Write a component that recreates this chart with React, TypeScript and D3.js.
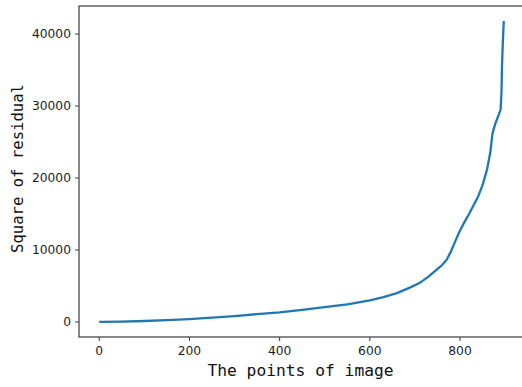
import React from "react";
import * as d3 from "d3";

const pointIndex = [0, 50, 100, 150, 200, 250, 300, 350, 400, 450, 500, 550, 600, 630, 660, 690, 710, 730, 745, 760, 770, 780, 790, 800, 810, 820, 830, 840, 850, 860, 867, 872, 878, 884, 890, 892, 893, 895, 897];
const residualSq = [0, 50, 130, 260, 400, 600, 820, 1080, 1330, 1680, 2050, 2450, 3000, 3450, 4000, 4800, 5400, 6300, 7100, 7900, 8600, 9800, 11300, 12700, 13900, 15000, 16200, 17400, 19000, 21200, 23500, 26200, 27500, 28500, 29500, 32000, 35500, 39000, 41800];
const xTicks = [0, 200, 400, 600, 800];
const yTicks = [0, 10000, 20000, 30000, 40000];

export default function App() {
  const W = 522, H = 387;
  const left = 79, right = 524, top = 6, bottom = 337;
  const xMax = 897, yMax = 41800;
  const x = d3.scaleLinear().domain([-0.05 * xMax, xMax * 1.05]).range([left, right]);
  const y = d3.scaleLinear().domain([-0.05 * yMax, yMax * 1.05]).range([bottom, top]);
  const line = d3.line<number>().x((_, i) => x(pointIndex[i])).y((d) => y(d));
  const spine = "#3a3a3a";
  return (
    <svg width={W} height={H} style={{ position: "absolute", left: 0, top: 0, background: "#fff" }}>
      <rect x={0} y={0} width={W} height={H} fill="#fff" />
      <path d={line(residualSq) || ""} fill="none" stroke="#1f77b4" strokeWidth={2.3} strokeLinejoin="round" strokeLinecap="butt" />
      <rect x={left} y={top} width={right - left} height={bottom - top} fill="none" stroke={spine} strokeWidth={1.2} />
      {xTicks.map((t) => (
        <g key={"x" + t}>
          <line x1={x(t)} x2={x(t)} y1={bottom} y2={bottom + 4} stroke={spine} strokeWidth={1} />
          <text x={x(t)} y={355} textAnchor="middle" fontFamily="DejaVu Sans" fontSize={12.3} fill="#1a1a1a">{t}</text>
        </g>
      ))}
      {yTicks.map((t) => (
        <g key={"y" + t}>
          <line x1={left - 4} x2={left} y1={y(t)} y2={y(t)} stroke={spine} strokeWidth={1} />
          <text x={71} y={y(t)} dy="0.35em" textAnchor="end" fontFamily="DejaVu Sans" fontSize={12.3} fill="#1a1a1a">{t}</text>
        </g>
      ))}
      <text x={300.5} y={376} textAnchor="middle" fontFamily="DejaVu Sans Mono" fontSize={16.3} fill="#111">The points of image</text>
      <text transform={`translate(22.5,${(top + bottom) / 2 - 3}) rotate(-90)`} textAnchor="middle" fontFamily="DejaVu Sans Mono" fontSize={15.6} fill="#111">Square of residual</text>
    </svg>
  );
}
